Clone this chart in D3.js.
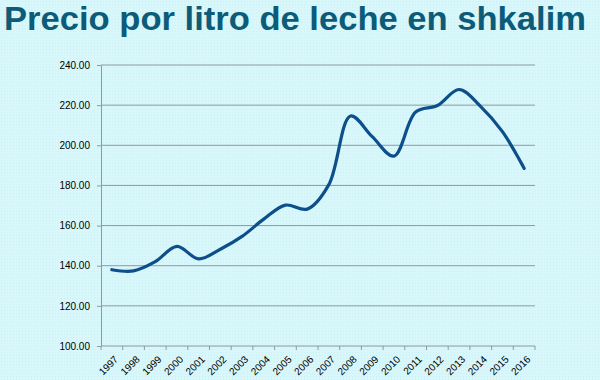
<!DOCTYPE html>
<html>
<head>
<meta charset="utf-8">
<script src="https://cdn.jsdelivr.net/npm/d3@7"></script>
<style>
html,body{margin:0;padding:0;background:#d8f7fb;}
svg{display:block;}
</style>
</head>
<body>
<svg id="chart" width="600" height="380"></svg>
<script>
const titleText = "Precio por litro de leche en shkalim";
const years = ["1997","1998","1999","2000","2001","2002","2003","2004","2005","2006","2007","2008","2009","2010","2011","2012","2013","2014","2015","2016"];
const prices = [138.0,137.4,142.0,149.6,143.4,148.2,154.6,163.2,170.2,168.2,180.4,214.6,204.3,194.6,216.6,219.8,227.8,219.3,206.8,188.5];
const yTicks = [100,120,140,160,180,200,220,240];

const svg = d3.select("#chart");
const W = 600, H = 380;
const m = {left:101, right:65, top:65, bottom:34};

// background with faint dot texture
const defs = svg.append("defs");
const pat = defs.append("pattern").attr("id","dots").attr("width",3).attr("height",3).attr("patternUnits","userSpaceOnUse");
pat.append("rect").attr("width",3).attr("height",3).attr("fill","#d8f7fb");
pat.append("rect").attr("x",1).attr("y",1).attr("width",1).attr("height",1).attr("fill","#cdeff6");
svg.append("rect").attr("width",W).attr("height",H).attr("fill","url(#dots)");

// title
const t = svg.append("text")
  .attr("x",4).attr("y",30)
  .attr("font-family","Liberation Sans, Arial, sans-serif")
  .attr("font-weight","bold").attr("font-size",33)
  .attr("fill","#0c5b78")
  .text(titleText);
const tl = t.node().getComputedTextLength();
const target = 582;
if (Math.abs(tl-target) > 4) t.attr("textLength",target).attr("lengthAdjust","spacingAndGlyphs");

const x = d3.scaleBand().domain(years).range([m.left, W-m.right]).padding(0);
const y = d3.scaleLinear().domain([100,240]).range([H-m.bottom, m.top]);

// gridlines
svg.append("g").selectAll("line").data(yTicks.filter(v=>v>100)).join("line")
  .attr("x1",m.left).attr("x2",W-m.right)
  .attr("y1",d=>y(d)).attr("y2",d=>y(d))
  .attr("stroke","#8e9a9c").attr("stroke-width",1);

// y axis
const ya = svg.append("g").attr("transform",`translate(${m.left},0)`)
  .call(d3.axisLeft(y).tickValues(yTicks).tickFormat(d3.format(".2f")).tickSize(4).tickSizeOuter(0));
ya.select(".domain").attr("stroke","#8e9a9c");
ya.selectAll(".tick line").attr("stroke","#8e9a9c");
ya.selectAll(".tick text").attr("font-family","Liberation Sans, Arial, sans-serif").attr("font-size",10).attr("fill","#000").attr("dx",-4);

// x axis with ticks at band boundaries
const xa = svg.append("g").attr("transform",`translate(0,${H-m.bottom})`);
xa.append("line").attr("x1",m.left).attr("x2",W-m.right).attr("stroke","#8e9a9c");
const bounds = years.map(d=>x(d)).concat([x(years[years.length-1])+x.bandwidth()]);
xa.selectAll("line.tk").data(bounds).join("line").attr("class","tk")
  .attr("x1",d=>d).attr("x2",d=>d).attr("y1",0).attr("y2",4).attr("stroke","#8e9a9c");
xa.selectAll("text").data(years).join("text")
  .attr("transform",d=>`translate(${x(d)+x.bandwidth()/2+2},${9}) rotate(-45)`)
  .attr("text-anchor","end").attr("dy","0.7em")
  .attr("font-family","Liberation Sans, Arial, sans-serif").attr("font-size",10).attr("fill","#000")
  .text(d=>d);

// line
const line = d3.line()
  .x((d,i)=>x(years[i])+x.bandwidth()/2)
  .y(d=>y(d))
  .curve(d3.curveCatmullRom.alpha(0.5));
svg.append("path").datum(prices)
  .attr("d",line).attr("fill","none")
  .attr("stroke","#0d4f8a").attr("stroke-width",3.2).attr("stroke-linecap","round");
</script>
</body>
</html>
